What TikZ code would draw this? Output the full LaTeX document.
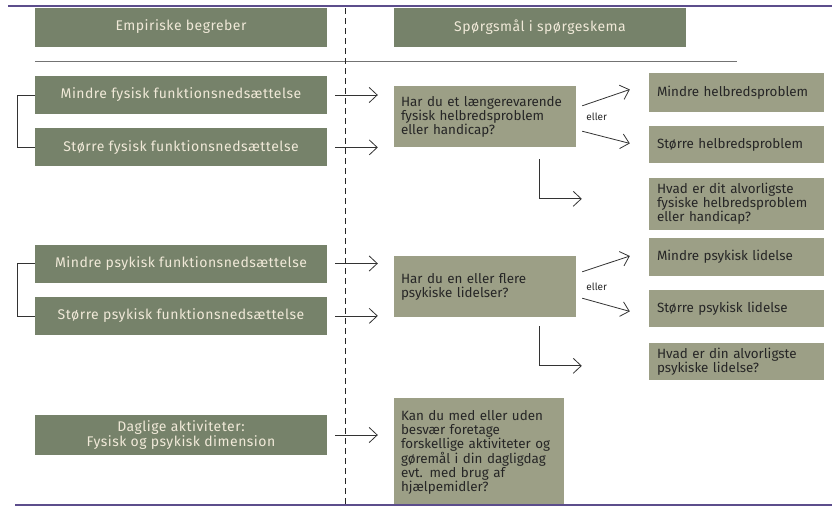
\documentclass[tikz,border=0pt]{standalone}
\usepackage{fontspec}
\setmainfont{Fira Sans}
\usetikzlibrary{positioning, arrows.meta, calc}
\definecolor{darkbox}{HTML}{76826A}
\definecolor{lightbox}{HTML}{9C9F86}
\definecolor{boxtext}{HTML}{F0E9D8}
\definecolor{frameline}{HTML}{5C4D8C}

\begin{document}
\begin{tikzpicture}[%
    x=1pt, y=-1pt,
    >={Straight Barb[length=8pt,width=15pt]},
    every node/.style={%
      font=\fontsize{13.4}{14}\selectfont,
      inner sep=0pt
    },
    concept/.style={fill=darkbox, text=boxtext, minimum width=292pt,
      minimum height=38pt, align=center,
      font=\fontsize{14}{15}\selectfont\addfontfeatures{LetterSpace=3.5}},
    question/.style={fill=lightbox, text=black!85, align=left,
      inner xsep=7pt, text width=168pt, minimum height=61pt},
    answer/.style={fill=lightbox, text=black!85, align=left,
      inner xsep=8pt, text width=159pt, minimum height=37pt},
    ortext/.style={font=\fontsize{10}{11}\selectfont, text=black!85},
    link/.style={->, draw=black!80, line width=0.8pt}
  ]

  \useasboundingbox (0,0) rectangle (832,507);

  % Column headers
  \node[concept, minimum height=39pt] (h1) at (181,27) {Empiriske begreber};
  \node[concept, minimum height=39pt] (h2) at (540,27) {Spørgsmål i spørgeskema};

  % Physical dimension
  \node[concept] (l1) at (181,95) {Mindre fysisk funktionsnedsættelse};
  \node[concept, below=14pt of l1] (l2) {Større fysisk funktionsnedsættelse};
  \node[question] (q1) at (485,116.5)
    {Har du et længerevarende\\fysisk helbredsproblem\\eller handicap?};
  \node[answer, minimum height=39pt] (r1) at (736.5,92.5) {Mindre helbredsproblem};
  \node[answer, below=14pt of r1] (r2) {Større helbredsproblem};
  \node[answer, minimum height=52pt, below=14pt of r2] (r3)
    {Hvad er dit alvorligste\\fysiske helbredsproblem\\eller handicap?};
  \node[ortext, right=10pt of q1] (o1) {eller};

  \draw[black!80, line width=0.8pt] (l1.west) -- ++(-17,0) |- (l2.west);
  \draw[link, shorten <=8pt, shorten >=16pt] (l1.east) -- (l1.east -| q1.west);
  \draw[link, shorten <=8pt, shorten >=16pt] (l2.east) -- (l2.east -| q1.west);
  \draw[link] ([shift={(6,20)}]q1.north east) -- ([shift={(-19,-3)}]r1.west);
  \draw[link] ([shift={(6,-16)}]q1.south east) -- ([shift={(-19,-1.5)}]r2.west);
  \draw[link] ([shift={(54,12)}]q1.south) |- ([shift={(-67,-5)}]r3.west);

  % Psychological dimension
  \node[concept] (l3) at (181,263.5) {Mindre psykisk funktionsnedsættelse};
  \node[concept, below=14pt of l3] (l4) {Større psykisk funktionsnedsættelse};
  \node[question] (q2) at (485,286.5)
    {Har du en eller flere\\psykiske lidelser?};
  \node[answer, minimum height=38pt] (r4) at (736.5,257) {Mindre psykisk lidelse};
  \node[answer, below=14pt of r4] (r5) {Større psykisk lidelse};
  \node[answer, below=15pt of r5] (r6)
    {Hvad er din alvorligste\\psykiske lidelse?};
  \node[ortext, right=10pt of q2] (o2) {eller};

  \draw[black!80, line width=0.8pt] (l3.west) -- ++(-17,0) |- (l4.west);
  \draw[link, shorten <=8pt, shorten >=16pt] (l3.east) -- (l3.east -| q2.west);
  \draw[link, shorten <=8pt, shorten >=16pt] (l4.east) -- (l4.east -| q2.west);
  \draw[link] ([shift={(6,16)}]q2.north east) -- ([shift={(-19,-1)}]r4.west);
  \draw[link] ([shift={(6,-19)}]q2.south east) -- ([shift={(-19,2.5)}]r5.west);
  \draw[link] ([shift={(54,9)}]q2.south) |- ([shift={(-67,4.5)}]r6.west);

  % Daily activities
  \node[concept, minimum height=40pt] (l5) at (181,435)
    {Daglige aktiviteter:\\Fysisk og psykisk dimension};
  \node[question, text width=156pt, minimum height=108pt] (q3) at (479,452)
    {Kan du med eller uden\\besvær foretage\\forskellige aktiviteter og\\gøremål i din dagligdag\\evt. med brug af\\hjælpemidler?};
  \draw[link, shorten <=8pt, shorten >=16pt] (l5.east) -- (l5.east -| q3.west);

  % Rules
  \draw[black!55, line width=1.2pt] (35,61.5) -- (737,61.5);
  \draw[black!85, line width=0.7pt, dash pattern=on 6pt off 4pt] (345,8) -- (345,507);
  \draw[frameline, line width=2pt] (8,6) -- (832,6);
  \draw[frameline, line width=2pt] (15,505) -- (832,505);

\end{tikzpicture}
\end{document}
